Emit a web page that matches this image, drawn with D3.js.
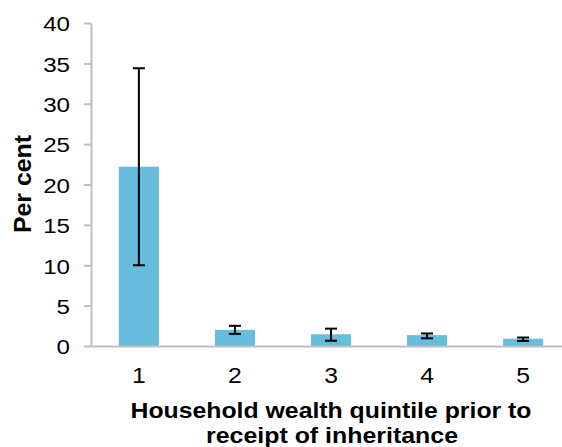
<!DOCTYPE html>
<html>
<head>
<meta charset="utf-8">
<script src="https://cdn.jsdelivr.net/npm/d3@7"></script>
<style>
  body { margin: 0; background: #fff; }
  text { font-family: "Liberation Sans", Arial, sans-serif; }
</style>
</head>
<body>
<div id="chart"></div>
<script>
// quintiles and values (per cent)
var quintiles = ["1", "2", "3", "4", "5"];
var values = [22.2, 2.0, 1.45, 1.35, 0.9];
var errLow = [10.0, 1.5, 0.65, 0.95, 0.62];
var errHigh = [34.4, 2.5, 2.15, 1.55, 1.05];
var yTicks = [0, 5, 10, 15, 20, 25, 30, 35, 40];

var width = 562, height = 447;
var stretch = 1.15;   // text in the original is a bit wide

var svg = d3.select("#chart").append("svg")
    .attr("width", width)
    .attr("height", height);

var x = d3.scaleBand()
    .domain(quintiles)
    .range([91, 571])
    .paddingInner(0.583)
    .paddingOuter(0.29);

var y = d3.scaleLinear()
    .domain([0, 40])
    .range([346, 23]);

// bars
svg.selectAll(".bar")
    .data(quintiles)
    .enter().append("rect")
    .attr("class", "bar")
    .attr("x", d => x(d))
    .attr("y", (d, i) => y(values[i]))
    .attr("width", x.bandwidth())
    .attr("height", (d, i) => y(0) - y(values[i]))
    .attr("fill", "#66bddd");

// y axis
var yAxis = svg.append("g")
    .attr("transform", "translate(91,0)")
    .call(d3.axisLeft(y).tickValues(yTicks).tickSize(7).tickSizeOuter(0));
yAxis.selectAll("path, line").attr("stroke", "#bfbfbf").attr("stroke-width", 2);
yAxis.selectAll("text")
    .attr("fill", "#000")
    .attr("x", 0)
    .attr("dy", "0.37em")
    .attr("transform", `translate(-21,0) scale(${stretch},1)`)
    .style("font-size", "21px");

// x axis
var xAxis = svg.append("g")
    .attr("transform", "translate(0,346)")
    .call(d3.axisBottom(x).tickSize(0).tickSizeOuter(0).tickPadding(22));
xAxis.select("path").attr("stroke", "#bfbfbf").attr("stroke-width", 2);
xAxis.selectAll("text")
    .attr("fill", "#000")
    .attr("transform", `scale(${stretch},1)`)
    .style("font-size", "21.5px");

// error bars
var eb = svg.selectAll(".err")
    .data(quintiles)
    .enter().append("g")
    .attr("class", "err")
    .attr("stroke", "#000")
    .attr("stroke-width", 2);
eb.append("line")
    .attr("x1", d => x(d) + x.bandwidth() / 2)
    .attr("x2", d => x(d) + x.bandwidth() / 2)
    .attr("y1", (d, i) => y(errLow[i]))
    .attr("y2", (d, i) => y(errHigh[i]));
eb.append("line")
    .attr("x1", d => x(d) + x.bandwidth() / 2 - 6)
    .attr("x2", d => x(d) + x.bandwidth() / 2 + 6)
    .attr("y1", (d, i) => y(errLow[i]))
    .attr("y2", (d, i) => y(errLow[i]));
eb.append("line")
    .attr("x1", d => x(d) + x.bandwidth() / 2 - 6)
    .attr("x2", d => x(d) + x.bandwidth() / 2 + 6)
    .attr("y1", (d, i) => y(errHigh[i]))
    .attr("y2", (d, i) => y(errHigh[i]));

// axis titles
svg.append("text")
    .attr("transform", "translate(31,184) rotate(-90)")
    .attr("text-anchor", "middle")
    .attr("textLength", 98)
    .attr("lengthAdjust", "spacingAndGlyphs")
    .style("font-size", "23px")
    .style("font-weight", "bold")
    .text("Per cent");

var xt = svg.append("g")
    .style("font-size", "21.5px")
    .style("font-weight", "bold");
xt.append("text")
    .attr("x", 331).attr("y", 417.5)
    .attr("text-anchor", "middle")
    .attr("textLength", 401)
    .attr("lengthAdjust", "spacingAndGlyphs")
    .text("Household wealth quintile prior to");
xt.append("text")
    .attr("x", 332).attr("y", 443)
    .attr("text-anchor", "middle")
    .attr("textLength", 252)
    .attr("lengthAdjust", "spacingAndGlyphs")
    .text("receipt of inheritance");
</script>
</body>
</html>
